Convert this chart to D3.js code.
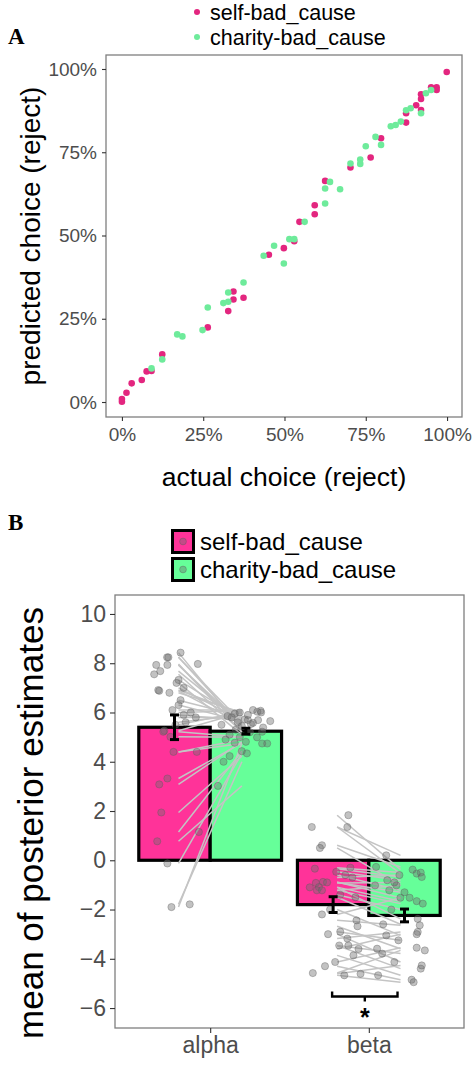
<!DOCTYPE html>
<html><head><meta charset="utf-8">
<script src="https://cdn.jsdelivr.net/npm/d3@7"></script>
<style>
body{margin:0;background:#fff}
svg{display:block}
text{font-family:"Liberation Sans",Arial,sans-serif}
</style>
</head><body>
<svg id="c" width="475" height="1066"></svg>
<script>
// ---------------- DATA ----------------
const conditions = ["self-bad_cause", "charity-bad_cause"];
// Panel A : actual vs predicted rejection rate
const selfActual =    [0.999,0.951,0.968,0.968,0.920,0.920,0.920,0.905,0.874,0.874,0.797,0.765,0.703,0.625,0.593,0.593,0.546,0.530,0.498,0.452,0.343,0.343,0.374,0.327,0.264,0.124,0.076,0.091,0.061,0.030,0.014,0.000,0.000];
const selfPredicted = [0.991,0.945,0.945,0.937,0.924,0.910,0.877,0.891,0.867,0.839,0.792,0.734,0.704,0.664,0.591,0.564,0.541,0.483,0.462,0.442,0.332,0.308,0.313,0.273,0.224,0.143,0.092,0.093,0.066,0.056,0.028,0.009,0.001];
const charityActual =    [0.951,0.935,0.920,0.888,0.874,0.858,0.842,0.827,0.780,0.797,0.750,0.733,0.733,0.703,0.640,0.625,0.671,0.625,0.562,0.515,0.530,0.468,0.436,0.498,0.374,0.327,0.327,0.312,0.264,0.248,0.170,0.186,0.124,0.091];
const charityPredicted = [0.937,0.927,0.867,0.882,0.876,0.842,0.832,0.828,0.796,0.772,0.768,0.728,0.715,0.716,0.661,0.641,0.639,0.596,0.541,0.489,0.489,0.469,0.439,0.416,0.359,0.329,0.301,0.297,0.284,0.216,0.203,0.197,0.128,0.101];
const pctTicks = [0, 0.25, 0.5, 0.75, 1];

// Panel B : posterior estimates
const params = ["alpha", "beta"];
const selfMean = [5.40, -1.80];
const charityMean = [5.24, -2.24];
const selfSE = [0.50, 0.32];
const charitySE = [0.12, 0.26];
const bTicks = [-6, -4, -2, 0, 2, 4, 6, 8, 10];

// per-subject estimates (same subject order in self / charity)
const alphaSelf =    [8.43,8.24,8.24,7.97,7.93,7.93,7.68,7.55,7.32,7.2,7.0,6.91,6.88,6.8,6.5,6.3,6.1,6.0,5.9,5.8,5.6,5.5,5.26,5.22,5.01,4.4,4.4,3.32,3.08,1.94,1.15,0.77,-0.13,-1.79,-1.9];
const alphaCharity = [5.3,5.6,5.45,5.2,5.5,5.39,5.58,5.22,5.72,5.1,5.69,5.95,5.53,6.0,5.85,5.65,6.1,6.07,5.69,5.8,5.9,6.03,6.0,5.0,4.99,4.9,4.74,4.77,4.81,4.23,4.43,3.02,4.34,4.0,4.74];
const betaSelf =     [1.83,1.35,1.35,0.61,0.5,-0.3,-0.34,-0.47,-0.6,-0.7,-0.88,-0.9,-0.92,-1.09,-1.1,-1.22,-1.22,-1.4,-1.5,-2.0,-2.2,-2.44,-2.68,-2.9,-3.0,-3.18,-3.46,-3.46,-3.6,-3.86,-4.13,-4.3,-4.58,-4.61,-4.67];
const betaCharity =  [-0.38,0.2,-0.54,-0.27,-1.02,-0.5,-0.68,-0.81,-1.22,-0.6,-1.52,-1.3,-0.9,-1.66,-2.38,-1.76,-1.02,-2.0,-2.6,-3.05,-1.52,-2.64,-3.59,-3.25,-4.13,-2.91,-3.79,-4.4,-3.0,-4.67,-3.55,-4.85,-3.66,-4.27,-4.95];
// horizontal jitter of each dot (fraction of jitter width)
const alphaSelfJitter =    [0.24,-0.29,-0.24,0.92,-0.72,-0.28,-0.56,-0.8,0.16,0.08,0.36,-0.64,-0.6,-0.2,0.24,0.16,-0.08,0.64,0.36,0.84,0.44,0.04,-0.4,-0.44,-0.16,-0.04,0.88,-0.28,-0.6,-0.52,0.96,-0.68,-0.28,0.6,-0.12];
const alphaCharityJitter = [-0.4,-0.32,-0.16,0.16,-0.96,0.68,0.28,0.64,-0.04,-0.64,0.08,-0.44,0.2,-0.24,-0.72,0.96,0.28,0.58,0.48,-0.56,0.08,0.45,0.6,-0.24,0.44,-0.8,0.84,-0.44,0,-0.64,-0.16,-1.1,0.04,-0.88,0.64];
const betaSelfJitter =     [0.6,-0.84,0.56,-0.44,-0.52,0.68,-0.72,0.12,0.48,0.76,-0.4,-0.24,-0.68,-0.56,-0.92,-0.64,-0.44,0.28,0.88,-0.12,-0.44,0.92,0.96,0.28,-0.2,0.56,0.24,0.6,1.0,0.8,0.08,-0.32,-0.8,1.08,0.44];
const betaCharityJitter =  [0.32,-0.72,0.48,-1.12,-0.32,0.64,0.68,-0.68,-0.6,-0.2,-0.16,0,-0.4,0.48,0.52,0.72,-1.16,-0.52,-0.84,-0.72,0.2,0.6,-1.08,-0.24,-0.4,0.52,-0.88,0.64,0.48,-1.04,0.48,0.28,0.8,0.68,0.36];
// significance annotation for beta
const sigLabel = "*";
const sigY = -5.53;

// ---------------- STYLE ----------------
const pinkA = "#E3267F", greenA = "#6EEB9B";
const pinkB = "#FF3399", greenB = "#66FF99";
const tickCol = "#4D4D4D";
const svg = d3.select("#c");

// ================= PANEL A =================
const A = {l:106, r:462, t:55, b:417};
const xA = d3.scaleLinear().domain([-0.049, 1.046]).range([A.l, A.r]);
const yA = d3.scaleLinear().domain([-0.045, 1.042]).range([A.b, A.t]);
const pctFmt = d => Math.round(d*100) + "%";

svg.append("rect").attr("x",A.l).attr("y",A.t).attr("width",A.r-A.l).attr("height",A.b-A.t)
  .attr("fill","none").attr("stroke","#7F7F7F").attr("stroke-width",1.3);

const axAy = svg.append("g").attr("transform",`translate(${A.l},0)`)
  .call(d3.axisLeft(yA).tickValues(pctTicks).tickFormat(pctFmt).tickSize(4).tickPadding(5));
const axAx = svg.append("g").attr("transform",`translate(0,${A.b})`)
  .call(d3.axisBottom(xA).tickValues(pctTicks).tickFormat(pctFmt).tickSize(4).tickPadding(7));
[axAy, axAx].forEach(g => {
  g.select(".domain").remove();
  g.selectAll("line").attr("stroke","#333").attr("stroke-width",1.1);
  g.selectAll("text").attr("fill",tickCol).style("font-size","19px").style("font-family",'"Liberation Sans",Arial,sans-serif');
});

const ptsSelf = selfActual.map((d,i)=>({x:d, y:selfPredicted[i]}));
const ptsCharity = charityActual.map((d,i)=>({x:d, y:charityPredicted[i]}));
svg.append("g").selectAll("circle").data(ptsSelf).join("circle")
  .attr("cx",d=>xA(d.x)).attr("cy",d=>yA(d.y)).attr("r",3.3).attr("fill",pinkA);
svg.append("g").selectAll("circle").data(ptsCharity).join("circle")
  .attr("cx",d=>xA(d.x)).attr("cy",d=>yA(d.y)).attr("r",3.3).attr("fill",greenA);

svg.append("text").attr("x",(A.l+A.r)/2).attr("y",486).attr("text-anchor","middle")
  .style("font-size","26.5px").attr("fill","#000").text("actual choice (reject)");
svg.append("text").attr("transform",`translate(40,${(A.t+A.b)/2}) rotate(-90)`).attr("text-anchor","middle")
  .style("font-size","28px").attr("fill","#000").text("predicted choice (reject)");

// legend A
const legA = svg.append("g");
conditions.forEach((c,i)=>{
  legA.append("circle").attr("cx",197).attr("cy",12+25*i).attr("r",3).attr("fill",i?greenA:pinkA);
  legA.append("text").attr("x",210).attr("y",20+25*i).style("font-size","21.5px").attr("fill","#000").text(c);
});
svg.append("text").attr("x",8).attr("y",44).style("font-family",'"Liberation Serif","Times New Roman",serif')
  .style("font-weight","bold").style("font-size","23px").text("A");

// ================= PANEL B =================
const B = {l:115, r:464, t:595, b:1028};
const xB = d3.scalePoint().domain(params).range([B.l, B.r]).padding(0.6);
const step = xB.step();
const yB = d3.scaleLinear().domain([-6.81, 10.77]).range([B.b, B.t]);
const half = 0.45*step;               // width of each dodged bar
const selfX = p => xB(p) - half/2;
const charX = p => xB(p) + half/2;
const jit = 0.16*step;

svg.append("rect").attr("x",B.l).attr("y",B.t).attr("width",B.r-B.l).attr("height",B.b-B.t)
  .attr("fill","none").attr("stroke","#7F7F7F").attr("stroke-width",1.3);

const axBy = svg.append("g").attr("transform",`translate(${B.l},0)`)
  .call(d3.axisLeft(yB).tickValues(bTicks).tickSize(5).tickPadding(4));
const axBx = svg.append("g").attr("transform",`translate(0,${B.b})`)
  .call(d3.axisBottom(xB).tickSize(5).tickPadding(4));
[axBy, axBx].forEach(g => {
  g.select(".domain").remove();
  g.selectAll("line").attr("stroke","#333").attr("stroke-width",1.1);
  g.selectAll("text").attr("fill",tickCol).style("font-size","23px").style("font-family",'"Liberation Sans",Arial,sans-serif');
});

// bars
const barData = [];
params.forEach((p,i)=>{
  barData.push({x:xB(p)-half, v:selfMean[i], fill:pinkB});
  barData.push({x:xB(p), v:charityMean[i], fill:greenB});
});
svg.append("g").selectAll("rect").data(barData).join("rect")
  .attr("x",d=>d.x).attr("width",half)
  .attr("y",d=>Math.min(yB(0),yB(d.v))).attr("height",d=>Math.abs(yB(d.v)-yB(0)))
  .attr("fill",d=>d.fill).attr("stroke","#000").attr("stroke-width",3.2);

// subject lines
const lineData = [];
alphaSelf.forEach((v,i)=>lineData.push({x1:selfX("alpha")+4, y1:v, x2:charX("alpha")-4, y2:alphaCharity[i]}));
betaSelf.forEach((v,i)=>lineData.push({x1:selfX("beta")+4, y1:v, x2:charX("beta")-4, y2:betaCharity[i]}));
svg.append("g").selectAll("line").data(lineData).join("line")
  .attr("x1",d=>d.x1).attr("x2",d=>d.x2).attr("y1",d=>yB(d.y1)).attr("y2",d=>yB(d.y2))
  .attr("stroke","#C4C4C4").attr("stroke-width",1.5);

// subject dots
const dotData = [];
alphaSelf.forEach((v,i)=>dotData.push({x:selfX("alpha")+alphaSelfJitter[i]*jit, y:v}));
alphaCharity.forEach((v,i)=>dotData.push({x:charX("alpha")+alphaCharityJitter[i]*jit, y:v}));
betaSelf.forEach((v,i)=>dotData.push({x:selfX("beta")+betaSelfJitter[i]*jit, y:v}));
betaCharity.forEach((v,i)=>dotData.push({x:charX("beta")+betaCharityJitter[i]*jit, y:v}));
svg.append("g").selectAll("circle").data(dotData).join("circle")
  .attr("cx",d=>d.x).attr("cy",d=>yB(d.y)).attr("r",3.6)
  .attr("fill","rgba(110,110,110,0.42)").attr("stroke","rgba(90,90,90,0.45)").attr("stroke-width",0.8);

// error bars
const errData = [];
params.forEach((p,i)=>{
  errData.push({x:selfX(p), m:selfMean[i], se:selfSE[i]});
  errData.push({x:charX(p), m:charityMean[i], se:charitySE[i]});
});
const eg = svg.append("g").attr("stroke","#000").attr("stroke-width",3);
errData.forEach(d=>{
  eg.append("line").attr("x1",d.x).attr("x2",d.x).attr("y1",yB(d.m-d.se)).attr("y2",yB(d.m+d.se));
  eg.append("line").attr("x1",d.x-4.5).attr("x2",d.x+4.5).attr("y1",yB(d.m-d.se)).attr("y2",yB(d.m-d.se));
  eg.append("line").attr("x1",d.x-4.5).attr("x2",d.x+4.5).attr("y1",yB(d.m+d.se)).attr("y2",yB(d.m+d.se));
});

// significance bracket
const bx1 = selfX("beta") - 1, bx2 = charX("beta") - 7, bmid = (bx1+bx2)/2;
const by = yB(sigY);
svg.append("path")
  .attr("d",`M${bx1},${by-5}V${by}H${bx2}V${by-5}M${bmid},${by}V${by+5}`)
  .attr("fill","none").attr("stroke","#000").attr("stroke-width",2.4);
svg.append("text").attr("x",bmid).attr("y",by+30).attr("text-anchor","middle")
  .style("font-size","25px").style("font-weight","bold").attr("fill","#000").text(sigLabel);

// axis title
svg.append("text").attr("transform",`translate(43,${823}) rotate(-90)`).attr("text-anchor","middle")
  .style("font-size","35px").attr("fill","#000").text("mean of posterior estimates");

// legend B
const legB = svg.append("g");
conditions.forEach((c,i)=>{
  legB.append("rect").attr("x",172.5).attr("y",530.5+28*i).attr("width",21).attr("height",22)
    .attr("fill",i?greenB:pinkB).attr("stroke","#000").attr("stroke-width",3);
  legB.append("circle").attr("cx",183).attr("cy",541.5+28*i).attr("r",3.4)
    .attr("fill","rgba(110,110,110,0.42)").attr("stroke","rgba(90,90,90,0.45)").attr("stroke-width",0.8);
  legB.append("text").attr("x",200).attr("y",550+28*i).style("font-size","24px").attr("fill","#000").text(c);
});
svg.append("text").attr("x",8).attr("y",530).style("font-family",'"Liberation Serif","Times New Roman",serif')
  .style("font-weight","bold").style("font-size","23px").text("B");
</script>
</body></html>
